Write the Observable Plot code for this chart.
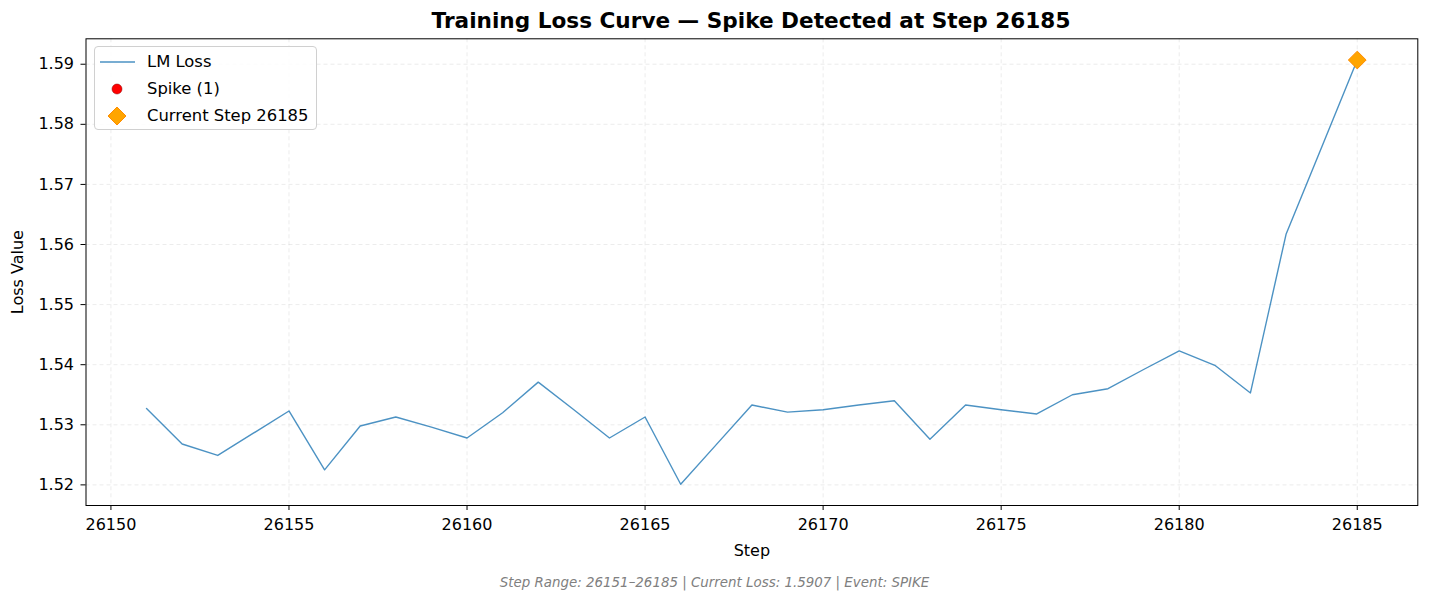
<!DOCTYPE html>
<html>
<head>
<meta charset="utf-8">
<script src="https://cdn.jsdelivr.net/npm/d3@7"></script>
<script src="https://cdn.jsdelivr.net/npm/@observablehq/plot@0.6"></script>
<style>
  html, body { margin: 0; padding: 0; background: #fff; }
  #wrap { position: relative; width: 1429px; height: 602px; font-family: "DejaVu Sans", sans-serif; }
  #title { position: absolute; left: 0; top: 7px; width: 1502px; text-align: center; font-weight: bold; font-size: 21.6px; line-height: 28px; color: #000; }
  #chart { position: absolute; left: 0; top: 30px; }
  #footer { position: absolute; left: 0; top: 575px; width: 1429px; text-align: center; font-style: italic; font-size: 13.4px; color: #808080; }
  #legend { position: absolute; left: 94px; top: 46px; width: 221px; height: 82px; border: 1px solid #d0d0d0; border-radius: 4px; background: rgba(255,255,255,0.85); font-size: 16.4px; }
  .row { position: absolute; left: 0; height: 20px; line-height: 20px; }
  .lab { position: absolute; left: 52px; white-space: nowrap; }
</style>
</head>
<body>
<div id="wrap">
  <div id="title"></div>
  <div id="chart"></div>
  <div id="legend"></div>
  <div id="footer"></div>
</div>
<script>
const steps = [26151,26152,26153,26154,26155,26156,26157,26158,26159,26160,
               26161,26162,26163,26164,26165,26166,26167,26168,26169,26170,
               26171,26172,26173,26174,26175,26176,26177,26178,26179,26180,
               26181,26182,26183,26184,26185];
const losses = [1.5327,1.5268,1.5249,1.5286,1.5323,1.5225,1.5298,1.5313,1.5296,1.5278,
                1.5320,1.5371,1.5325,1.5278,1.5313,1.5201,1.5267,1.5333,1.5321,1.5325,
                1.5333,1.5340,1.5276,1.5333,1.5325,1.5318,1.5350,1.5360,1.5392,1.5423,
                1.5399,1.5353,1.5617,1.5762,1.5907];
const spikeSteps = [26185];
const currentStep = 26185;
const xTicks = [26150,26155,26160,26165,26170,26175,26180,26185];
const yTicks = [1.52,1.53,1.54,1.55,1.56,1.57,1.58,1.59];
const titleText = "Training Loss Curve — Spike Detected at Step 26185";
const footerText = "Step Range: 26151–26185 | Current Loss: 1.5907 | Event: SPIKE";
const legendLabels = ["LM Loss", "Spike (1)", "Current Step 26185"];

const data = steps.map((s, i) => ({step: s, loss: losses[i]}));
const spikes = data.filter(d => spikeSteps.includes(d.step));
const current = data.filter(d => d.step === currentStep);

const xmin = d3.min(steps), xmax = d3.max(steps);
const ymin = d3.min(losses), ymax = d3.max(losses);
const xpad = (xmax - xmin) * 0.05, ypad = (ymax - ymin) * 0.05;

const chart = Plot.plot({
  width: 1429,
  height: 540,
  marginLeft: 85.5,
  marginRight: 11.7,
  marginTop: 8.3,
  marginBottom: 65,
  style: {fontFamily: "DejaVu Sans, sans-serif", fontSize: "16px", color: "#000", background: "transparent"},
  x: {domain: [xmin - xpad, xmax + xpad], ticks: xTicks, tickFormat: d => String(d)},
  y: {domain: [ymin - ypad, ymax + ypad], ticks: yTicks, tickFormat: d3.format(".2f")},
  marks: [
    Plot.gridX(xTicks, {stroke: "#b0b0b0", strokeOpacity: 0.3, strokeDasharray: "4,3", strokeWidth: 0.8}),
    Plot.gridY(yTicks, {stroke: "#b0b0b0", strokeOpacity: 0.3, strokeDasharray: "4,3", strokeWidth: 0.8}),
    Plot.axisX(xTicks, {tickSize: 5, tickPadding: 8, tickFormat: d => String(d), fontSize: 16, label: "Step", labelAnchor: "center", labelArrow: "none", labelOffset: 50}),
    Plot.axisY(yTicks, {tickSize: 5, tickPadding: 7, tickFormat: d3.format(".2f"), fontSize: 16, label: "Loss Value", labelAnchor: "center", labelArrow: "none", labelOffset: 74}),
    Plot.line(data, {x: "step", y: "loss", stroke: "#1f77b4", strokeOpacity: 0.8, strokeWidth: 1.4}),
    Plot.dot(spikes, {x: "step", y: "loss", r: 5, fill: "red", stroke: "darkred", strokeWidth: 0.5}),
    Plot.dot(current, {x: "step", y: "loss", symbol: "diamond2", r: 8, fill: "#FFA500", stroke: "#FF8C00", strokeWidth: 1}),
    Plot.frame({stroke: "#000", strokeWidth: 1})
  ]
});
document.getElementById("chart").appendChild(chart);
document.getElementById("title").textContent = titleText;
document.getElementById("footer").textContent = footerText;

const legend = document.getElementById("legend");
const rowTops = [5, 32, 59];
const swatches = [
  '<svg width="40" height="20"><line x1="5" x2="41" y1="10" y2="10" stroke="#1f77b4" stroke-opacity="0.8" stroke-width="1.5"/></svg>',
  '<svg width="40" height="20"><circle cx="22" cy="10" r="5" fill="red" stroke="darkred" stroke-width="0.5"/></svg>',
  '<svg width="40" height="20"><path d="M22 1 L31 10 L22 19 L13 10 Z" fill="#FFA500" stroke="#FF8C00" stroke-width="1"/></svg>'
];
legendLabels.forEach((lab, i) => {
  const row = document.createElement("div");
  row.className = "row";
  row.style.top = rowTops[i] + "px";
  row.innerHTML = swatches[i] + '<span class="lab">' + lab + '</span>';
  row.firstChild.style.position = "absolute";
  row.firstChild.style.left = "0px";
  row.firstChild.style.top = "0px";
  legend.appendChild(row);
});
</script>
</body>
</html>
